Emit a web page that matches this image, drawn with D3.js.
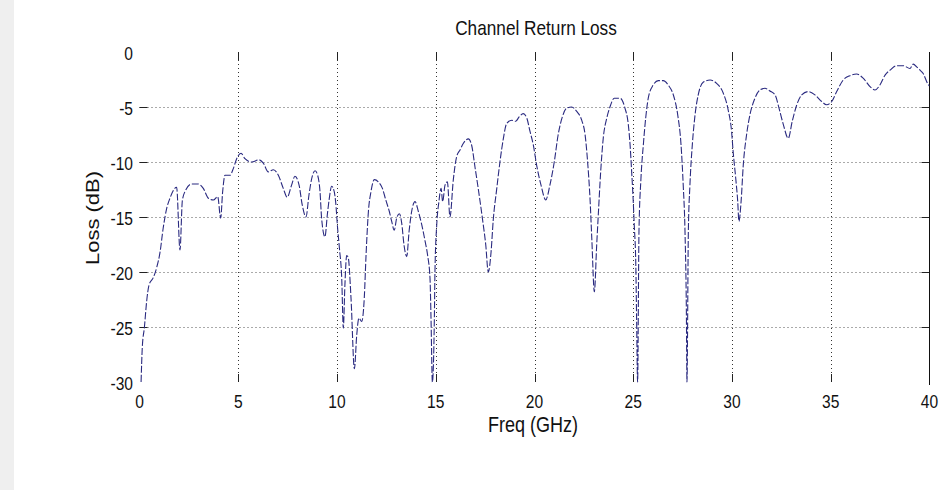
<!DOCTYPE html>
<html>
<head>
<meta charset="utf-8">
<script src="https://cdn.jsdelivr.net/npm/d3@7"></script>
<style>
  body { margin: 0; background: #fff; }
  text { font-family: "Liberation Sans", Arial, sans-serif; fill: #111; }
</style>
</head>
<body>
<div id="chart"></div>
<script>
// return loss trace (GHz, dB)
var freq = [0.08,0.14,0.25,0.36,0.48,0.7,0.87,1.04,1.2,1.38,1.54,1.88,2.05,2.17,2.3,2.64,2.98,3.23,3.49,3.74,3.96,4.11,4.21,4.33,4.58,4.75,4.92,5.14,5.34,5.68,6.05,6.27,6.52,6.78,7.03,7.28,7.48,7.7,7.87,8.08,8.24,8.43,8.58,8.72,8.89,9.02,9.14,9.22,9.39,9.51,9.61,9.73,9.86,9.93,10.03,10.12,10.24,10.32,10.4,10.49,10.57,10.71,10.88,11.0,11.11,11.25,11.38,11.47,11.59,11.72,11.89,12.09,12.3,12.47,12.65,12.77,12.9,13.02,13.16,13.28,13.39,13.53,13.65,13.78,13.95,14.12,14.29,14.46,14.59,14.71,14.76,14.83,14.93,14.96,15.05,15.16,15.27,15.35,15.47,15.59,15.72,15.89,16.06,16.23,16.4,16.65,16.82,16.99,17.15,17.36,17.53,17.66,17.8,17.91,18.09,18.25,18.42,18.59,18.85,19.05,19.22,19.43,19.61,19.77,19.94,20.11,20.33,20.57,20.78,21.0,21.2,21.41,21.63,21.88,22.14,22.39,22.56,22.69,22.81,22.9,23.03,23.15,23.23,23.35,23.48,23.66,23.82,24.04,24.33,24.58,24.75,24.84,24.92,25.0,25.05,25.13,25.17,25.22,25.29,25.39,25.51,25.63,25.76,26.01,26.27,26.52,26.77,27.03,27.25,27.42,27.53,27.62,27.69,27.72,27.79,27.87,27.99,28.13,28.29,28.54,28.89,29.22,29.56,29.81,29.98,30.06,30.19,30.29,30.35,30.46,30.57,30.74,30.91,31.16,31.42,31.67,31.92,32.18,32.38,32.6,32.85,33.05,33.28,33.53,33.86,34.2,34.54,34.79,35.05,35.3,35.63,35.97,36.31,36.65,36.99,37.24,37.49,37.75,38.0,38.34,38.68,39.01,39.18,39.35,39.52,39.68,39.9,40];
var loss = [-30,-26.9,-25,-22.7,-21.2,-20.5,-19.6,-18.2,-16.0,-14.2,-13.3,-12.3,-18,-13.5,-12.7,-12.0,-12.0,-12.4,-13.3,-13.45,-13.15,-15.1,-12.7,-11.2,-11.2,-10.6,-9.7,-9.2,-9.7,-10.0,-9.8,-10.1,-10.9,-10.7,-11.2,-12.4,-13.2,-12.1,-11.3,-12.1,-13.9,-15.0,-13.0,-11.5,-10.8,-11.2,-12.7,-15.1,-16.8,-14.8,-13.3,-12.2,-12.7,-13.6,-16.0,-17.8,-20.6,-25.1,-21.2,-18.5,-18.7,-22.4,-28.8,-25.7,-24.2,-24.5,-22.4,-18.5,-14.5,-12.7,-11.6,-11.8,-12.4,-13.45,-14.5,-15.4,-16.2,-15.1,-14.7,-15.6,-17.5,-18.6,-16.3,-14.5,-13.6,-14.5,-15.7,-17.2,-18.5,-20.6,-24.2,-30,-24.2,-20,-15.7,-13.6,-12.4,-13.6,-12.1,-11.8,-15,-11.6,-9.5,-8.9,-8.3,-7.9,-8.5,-10.5,-12.4,-15.1,-17.5,-20,-18.2,-15.3,-12.4,-10.0,-7.9,-6.5,-6.2,-6.3,-5.9,-5.6,-6.0,-7.2,-8.45,-10.3,-12.1,-13.45,-12.1,-10.0,-7.5,-5.9,-5.1,-5.0,-5.4,-6.2,-7.5,-10.0,-13.3,-16.9,-21.8,-17.5,-14.8,-10.9,-7.85,-6.0,-5.0,-4.2,-4.2,-5.1,-6.6,-8.45,-10.9,-13.6,-15.7,-19.4,-24.2,-30,-16.3,-11.5,-8.45,-6.0,-4.2,-3.0,-2.6,-2.6,-3.0,-3.9,-5.7,-8.45,-12.1,-16.3,-23.6,-30,-16.3,-12.1,-8.45,-5.7,-3.9,-2.75,-2.55,-2.85,-3.75,-5.3,-7.25,-9.1,-11.5,-13.6,-15.4,-13.6,-10.3,-7.5,-5.7,-4.2,-3.45,-3.3,-3.55,-3.9,-5.1,-6.6,-7.85,-6.3,-4.8,-3.9,-3.6,-3.9,-4.5,-4.8,-4.5,-3.6,-2.55,-2.15,-2.0,-2.4,-3.15,-3.45,-3.0,-2.1,-1.65,-1.25,-1.25,-1.5,-1.1,-1.35,-1.65,-1.95,-2.85,-3.1];

var xTicks = [0,5,10,15,20,25,30,35,40];
var yTicks = [0,-5,-10,-15,-20,-25,-30];

var width = 951, height = 490;

var x = d3.scaleLinear().domain([0, 40]).range([139.5, 929.5]);
var y = d3.scaleLinear().domain([-30, 0]).range([382, 52]);

var svg = d3.select("#chart").append("svg")
  .attr("width", width)
  .attr("height", height);

// grey strip at the left edge of the screenshot
svg.append("rect")
  .attr("x", 0).attr("y", 0)
  .attr("width", 14).attr("height", height)
  .style("fill", "#efefef");

// dotted grid
svg.selectAll(".hgrid")
  .data(yTicks.slice(1, -1))
  .enter().append("line")
  .attr("x1", x(0)).attr("x2", x(40))
  .attr("y1", d => y(d) + 0.5).attr("y2", d => y(d) + 0.5)
  .style("stroke", "#555")
  .style("stroke-dasharray", "1,3");

svg.selectAll(".vgrid")
  .data(xTicks.slice(1, -1))
  .enter().append("line")
  .attr("x1", d => Math.round(x(d)) + 0.5).attr("x2", d => Math.round(x(d)) + 0.5)
  .attr("y1", y(0)).attr("y2", y(-30))
  .style("stroke", "#333")
  .style("stroke-dasharray", "1,3");

// tick marks (inside, all four sides)
var tk = 8;
xTicks.slice(1, -1).forEach(function(d){
  var xx = Math.round(x(d)) + 0.5;
  svg.append("line").attr("x1", xx).attr("x2", xx).attr("y1", y(0)).attr("y2", y(0) + tk)
    .style("stroke", "#222");
  svg.append("line").attr("x1", xx).attr("x2", xx).attr("y1", y(-30) - tk).attr("y2", y(-30))
    .style("stroke", "#222");
});
yTicks.slice(1, -1).forEach(function(d){
  var yy = y(d) + 0.5;
  svg.append("line").attr("x1", x(0)).attr("x2", x(0) + tk).attr("y1", yy).attr("y2", yy)
    .style("stroke", "#222");
  svg.append("line").attr("x1", x(40) - tk).attr("x2", x(40)).attr("y1", yy).attr("y2", yy)
    .style("stroke", "#222");
});

// right box edge
svg.append("line")
  .attr("x1", x(40)).attr("x2", x(40))
  .attr("y1", y(0)).attr("y2", y(-30) + 3)
  .style("stroke", "#111");

// curve
svg.append("clipPath").attr("id", "plotclip")
  .append("rect")
  .attr("x", x(0)).attr("y", y(0))
  .attr("width", x(40) - x(0)).attr("height", y(-30) - y(0) + 1);

var line = d3.line()
  .x(d => x(d[0]))
  .y(d => y(d[1]))
  .curve(d3.curveMonotoneX);

svg.append("path")
  .datum(d3.zip(freq, loss))
  .attr("d", line)
  .attr("clip-path", "url(#plotclip)")
  .style("fill", "none")
  .style("stroke", "#2a2a80")
  .style("stroke-width", 1.1)
  .style("stroke-dasharray", "7,2");

// tick labels (the screenshot is squeezed horizontally)
svg.selectAll(".xlab")
  .data(xTicks)
  .enter().append("text")
  .attr("transform", d => "translate(" + x(d) + ",408) scale(0.82,1)")
  .attr("text-anchor", "middle")
  .style("font-size", "19px")
  .text(d => d);

svg.selectAll(".ylab")
  .data(yTicks)
  .enter().append("text")
  .attr("transform", d => "translate(133," + (y(d) + 1) + ") scale(0.82,1)")
  .attr("text-anchor", "end")
  .attr("dy", "0.35em")
  .style("font-size", "19px")
  .text(d => d);

// titles
svg.append("text")
  .attr("transform", "translate(536,35) scale(0.82,1)")
  .attr("text-anchor", "middle")
  .style("font-size", "21px")
  .text("Channel Return Loss");

svg.append("text")
  .attr("transform", "translate(533,432) scale(0.82,1)")
  .attr("text-anchor", "middle")
  .style("font-size", "22px")
  .text("Freq (GHz)");

svg.append("text")
  .attr("transform", "translate(93,218) rotate(-90) scale(1,0.82)")
  .attr("text-anchor", "middle")
  .attr("dy", "0.35em")
  .style("font-size", "22px")
  .text("Loss (dB)");
</script>
</body>
</html>
